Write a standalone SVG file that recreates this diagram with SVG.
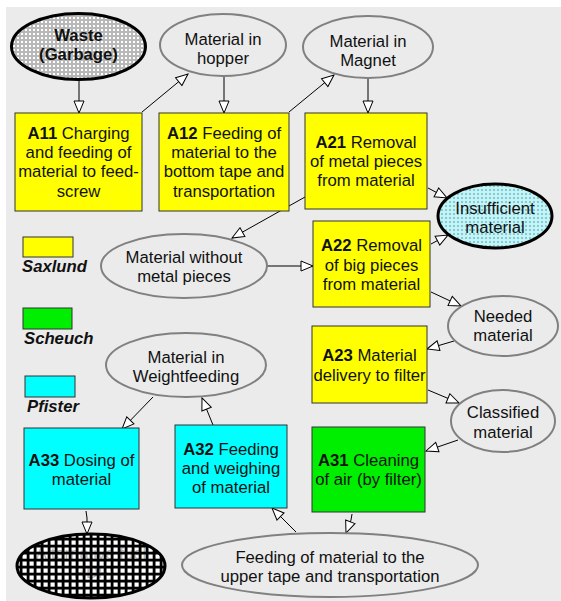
<svg xmlns="http://www.w3.org/2000/svg" width="561" height="601" viewBox="0 0 561 601">
<style>
text{font-family:"Liberation Sans",Arial,sans-serif;font-size:16.7px;fill:#111;text-anchor:middle}
.b{font-weight:bold}
.box{stroke:#333;stroke-width:1}
.y{fill:#ffff00}
.g{fill:#00ee00}
.c{fill:#00ffff}
.ell{fill:#ebebeb;stroke:#808080;stroke-width:2}
.leg{font-weight:bold;font-style:italic;text-anchor:start}
.con line,.con polyline{stroke:#000;stroke-width:1;fill:none;marker-end:url(#ah)}
</style>
<defs>
<marker id="ah" markerUnits="userSpaceOnUse" markerWidth="14" markerHeight="12" refX="13" refY="6" orient="auto">
<path d="M1,1 L13,6 L1,11 z" fill="#fff" stroke="#000" stroke-width="1"/>
</marker>
<pattern id="pGray" width="4" height="4" patternUnits="userSpaceOnUse">
<rect width="4" height="4" fill="#b8b8b8"/>
<rect x="1" y="1" width="2" height="2" fill="#ffffff"/>
</pattern>
<pattern id="pCyan" width="4" height="4" patternUnits="userSpaceOnUse">
<rect width="4" height="4" fill="#c8f2f5"/>
<rect x="1" y="1" width="2" height="2" fill="#78cfd6"/>
</pattern>
<pattern id="pBlack" width="7" height="7" patternUnits="userSpaceOnUse">
<rect width="7" height="7" fill="#000"/>
<rect x="1.5" y="1.5" width="4.2" height="4.2" fill="#fff"/>
</pattern>
</defs>
<rect x="6" y="7" width="555" height="594" fill="#ebebeb"/>

<g class="con" id="connectors">
<line x1="79" y1="81" x2="79" y2="113"/>
<line x1="142" y1="112" x2="188" y2="74"/>
<line x1="224" y1="77" x2="224" y2="113"/>
<line x1="289" y1="112" x2="334" y2="75"/>
<line x1="368" y1="79" x2="368" y2="113"/>
<line x1="428" y1="188" x2="447" y2="198"/>
<line x1="305" y1="197" x2="232" y2="238"/>
<line x1="267" y1="266" x2="313" y2="266"/>
<line x1="431" y1="244" x2="448" y2="235"/>
<line x1="431" y1="292" x2="461" y2="306"/>
<line x1="454" y1="341" x2="427" y2="349"/>
<line x1="428" y1="390" x2="459" y2="403"/>
<line x1="458" y1="440" x2="426" y2="451"/>
<polyline points="352,514 351,520 346,533"/>
<line x1="296" y1="532" x2="272" y2="508"/>
<line x1="213" y1="425" x2="202" y2="398"/>
<line x1="153" y1="397" x2="122" y2="429"/>
<polyline points="86,511 87,518 87,534"/>
</g>

<g id="waste">
<ellipse cx="78.5" cy="46.5" rx="67" ry="33" fill="url(#pGray)" stroke="#000" stroke-width="3"/>
<text class="b" x="78.5" y="41">Waste</text>
<text class="b" x="78.5" y="60">(Garbage)</text>
</g>
<g id="hopper">
<ellipse class="ell" cx="223" cy="45" rx="63" ry="31"/>
<text x="223" y="45">Material in</text>
<text x="223" y="64">hopper</text>
</g>
<g id="magnet">
<ellipse class="ell" cx="368" cy="47" rx="65" ry="31"/>
<text x="368" y="47">Material in</text>
<text x="368" y="66">Magnet</text>
</g>
<g id="A11">
<rect class="box y" x="15" y="113" width="127" height="98"/>
<text x="78.5" y="139"><tspan class="b">A11</tspan> Charging</text>
<text x="78.5" y="158">and feeding of</text>
<text x="78.5" y="177">material to feed-</text>
<text x="78.5" y="197">screw</text>
</g>
<g id="A12">
<rect class="box y" x="159" y="113" width="130" height="98"/>
<text x="224" y="139"><tspan class="b">A12</tspan> Feeding of</text>
<text x="224" y="158">material to the</text>
<text x="224" y="177">bottom tape and</text>
<text x="224" y="197">transportation</text>
</g>
<g id="A21">
<rect class="box y" x="305" y="113" width="122" height="96"/>
<text x="366" y="148"><tspan class="b">A21</tspan> Removal</text>
<text x="366" y="167">of metal pieces</text>
<text x="366" y="186">from material</text>
</g>
<g id="insufficient">
<ellipse cx="495" cy="216" rx="57" ry="32" fill="url(#pCyan)" stroke="#000" stroke-width="3"/>
<text x="495" y="214">Insufficient</text>
<text x="495" y="233">material</text>
</g>
<g id="legend">
<rect class="box y" x="23" y="237" width="50" height="20"/>
<text class="leg" x="22" y="272">Saxlund</text>
<rect class="box g" x="23" y="308" width="49" height="21"/>
<text class="leg" x="24" y="344">Scheuch</text>
<rect class="box c" x="25" y="376" width="50" height="21"/>
<text class="leg" x="27" y="412">Pfister</text>
</g>
<g id="without-metal">
<ellipse class="ell" cx="184" cy="266" rx="83" ry="32"/>
<text x="184" y="263">Material without</text>
<text x="184" y="282">metal pieces</text>
</g>
<g id="A22">
<rect class="box y" x="313" y="221" width="117" height="86"/>
<text x="371.5" y="251"><tspan class="b">A22</tspan> Removal</text>
<text x="371.5" y="271">of big pieces</text>
<text x="371.5" y="290">from material</text>
</g>
<g id="needed">
<ellipse class="ell" cx="503" cy="326" rx="55" ry="30"/>
<text x="503" y="322">Needed</text>
<text x="503" y="341">material</text>
</g>
<g id="A23">
<rect class="box y" x="312" y="326" width="115" height="77"/>
<text x="369.5" y="361"><tspan class="b">A23</tspan> Material</text>
<text x="369.5" y="381">delivery to filter</text>
</g>
<g id="classified">
<ellipse class="ell" cx="503" cy="421" rx="52" ry="31"/>
<text x="503" y="418">Classified</text>
<text x="503" y="438">material</text>
</g>
<g id="weightfeeding">
<ellipse class="ell" cx="186" cy="365" rx="80" ry="32"/>
<text x="186" y="363">Material in</text>
<text x="186" y="382">Weightfeeding</text>
</g>
<g id="A31">
<rect class="box g" x="312" y="427" width="113" height="85"/>
<text x="368.5" y="466"><tspan class="b">A31</tspan> Cleaning</text>
<text x="368.5" y="485">of air (by filter)</text>
</g>
<g id="A32">
<rect class="box c" x="175" y="425" width="112" height="83"/>
<text x="231" y="455"><tspan class="b">A32</tspan> Feeding</text>
<text x="231" y="474">and weighing</text>
<text x="231" y="493">of material</text>
</g>
<g id="A33">
<rect class="box c" x="24" y="428" width="115" height="81"/>
<text x="81.5" y="466"><tspan class="b">A33</tspan> Dosing of</text>
<text x="81.5" y="485">material</text>
</g>
<g id="final">
<ellipse cx="91" cy="566" rx="74" ry="32" fill="url(#pBlack)" stroke="#000" stroke-width="3"/>
<text x="91" y="559" style="fill:#000;fill-opacity:0.3">Alternative fuel</text>
<text x="91" y="578" style="fill:#000;fill-opacity:0.3">(RDF)</text>
</g>
<g id="upper-tape">
<ellipse class="ell" cx="330" cy="565" rx="148" ry="32"/>
<text x="330" y="563">Feeding of material to the</text>
<text x="330" y="582">upper tape and transportation</text>
</g>
</svg>
